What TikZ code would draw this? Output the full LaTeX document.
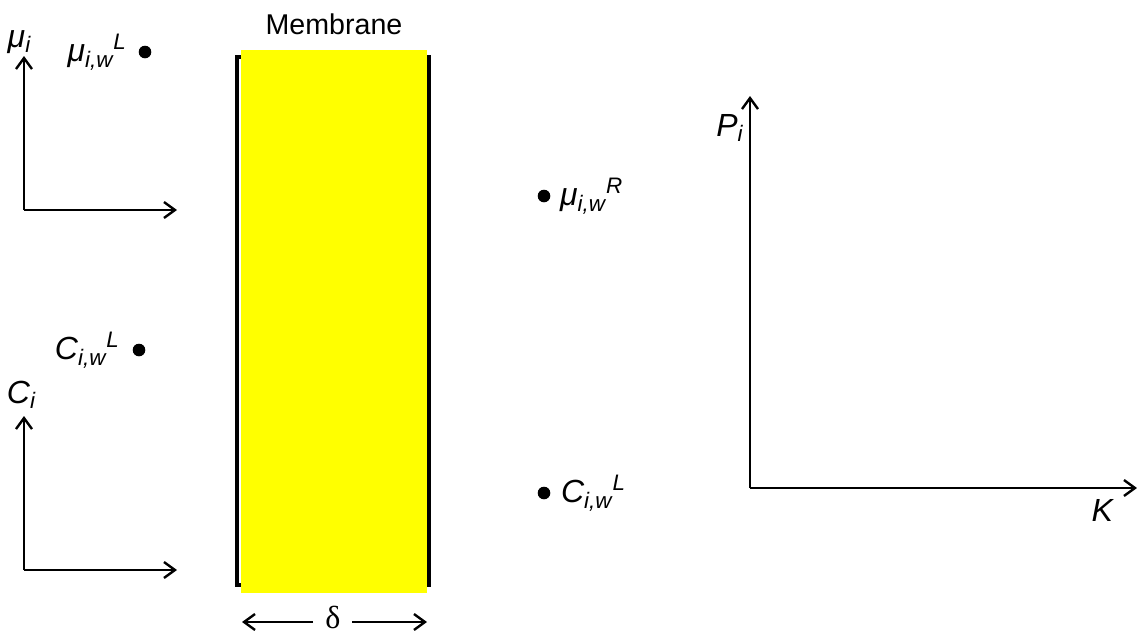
\documentclass[tikz,border=0pt]{standalone}
\usepackage{fontspec}
\setmainfont{Liberation Sans}
\newfontfamily\deltafont{Liberation Serif}
\usetikzlibrary{positioning,arrows.meta}
\definecolor{memFill}{RGB}{255,255,0}
\newcommand{\lbl}[3]{\textit{#1\textsubscript{#2}\textsuperscript{#3}}}

\begin{document}
\begin{tikzpicture}[x=0.5pt,y=-0.5pt,font=\fontsize{14.3}{17}\selectfont,
  >={Straight Barb[length=5.5pt,width=8pt]},
  ax/.style={->,line width=1.2pt},
  dot/.style={circle,fill=black,inner sep=0pt,minimum size=6.3pt},
  txt/.style={inner sep=0pt},
  sym/.style={inner sep=0pt,font=\fontsize{16}{19}\selectfont},
  brk/.style={line width=1.7pt}]
\useasboundingbox (0,0) rectangle (1137,633);
% membrane
\draw[brk] (241,57) -- (237,57) -- (237,585) -- (241,585);
\draw[brk] (425,57) -- (429,57) -- (429,585) -- (425,585);
\fill[memFill] (241,50) rectangle (427,593);
\node[txt] (mem) at (334,24) {Membrane};
\node[txt,font=\deltafont\fontsize{16}{19}\selectfont] (dl) at (333,617) {δ};
\coordinate (dla) at (313,622);
\coordinate (dlb) at (352,622);
\draw[ax] (dla) -- (242,622);
\draw[ax] (dlb) -- (427,622);
% left axes, chemical potential
\coordinate (o1) at (24,210);
\draw[ax] (o1) -- (24,56) coordinate (y1);
\draw[ax] (o1) -- (177,210);
\node[sym] (mu) at (20,42) {\lbl{μ}{i}{}};
\node[dot] (muL) at (145,52) {};
\node[sym,left=5.5pt of muL] {\lbl{μ}{i,w}{L}};
% left axes, concentration
\coordinate (o2) at (24,570);
\draw[ax] (o2) -- (24,416) coordinate (y2);
\draw[ax] (o2) -- (177,570);
\node[sym] (ci) at (22,395) {\lbl{C}{i}{}};
\node[dot] (cL) at (139,350) {};
\node[sym,left=6pt of cL] {\lbl{C}{i,w}{L}};
% right side
\node[dot] (muR) at (544,196) {};
\node[sym,right=4.5pt of muR] {\lbl{μ}{i,w}{R}};
\node[dot] (cR) at (544,493) {};
\node[sym,right=5pt of cR] {\lbl{C}{i,w}{L}};
% permeability axes
\coordinate (o3) at (750,488);
\draw[ax] (o3) -- (750,96);
\draw[ax] (o3) -- (1137,488);
\node[sym,anchor=east] (pi) at (745,128) {\lbl{P}{i}{}};
\node[sym] (k) at (1103,510) {\textit{K}};
\end{tikzpicture}
\end{document}
